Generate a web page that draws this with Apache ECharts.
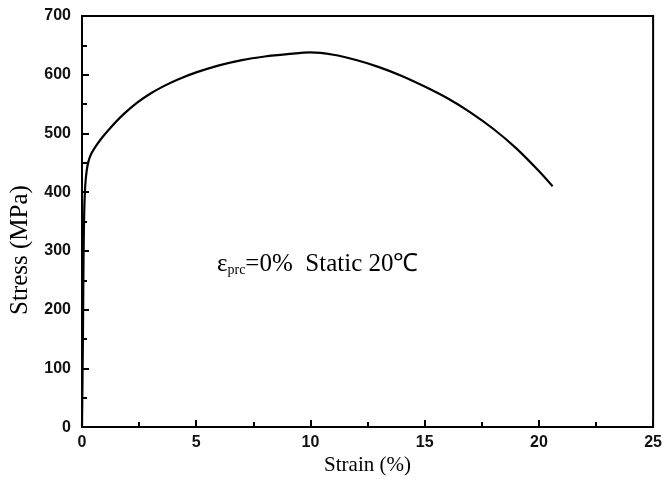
<!DOCTYPE html>
<html>
<head>
<meta charset="utf-8">
<script src="https://cdn.jsdelivr.net/npm/echarts@6/dist/echarts.min.js"></script>
<style>html,body{margin:0;padding:0;background:#fff;}#c{width:665px;height:481px;}</style>
</head>
<body>
<div id="c"></div>
<script>
var strain = [0, 0.04, 0.07, 0.1, 0.14, 0.2, 0.28, 0.4, 0.6, 0.9, 1.3, 1.8, 2.4, 3.0, 3.6, 4.2, 5.0, 6.0, 7.0, 8.0, 9.0, 10.0, 11.0, 12.0, 13.0, 14.0, 15.0, 16.0, 17.0, 18.0, 19.0, 20.0, 20.6];
var stress = [0, 150, 300, 370, 410, 435, 452, 465, 478, 494, 512, 532, 552, 568, 581, 592, 604, 616, 625, 631, 635, 638, 634, 625, 613, 598, 580, 560, 536, 508, 475, 436, 410];
var xTicks = [0, 5, 10, 15, 20, 25];
var yTicks = [0, 100, 200, 300, 400, 500, 600, 700];
var annotation = ['ε', 'prc', '=0%  Static 20℃'];

var points = strain.map(function (s, i) { return [s, stress[i]]; });
var chart = echarts.init(document.getElementById('c'));
chart.setOption({
  animation: false,
  backgroundColor: '#fff',
  grid: { left: 82, right: 11, top: 16, bottom: 45, show: true, borderColor: '#000', borderWidth: 2, backgroundColor: 'transparent' },
  xAxis: {
    type: 'value', min: xTicks[0], max: xTicks[xTicks.length - 1], interval: 5,
    name: 'Strain (%)', nameLocation: 'middle', nameGap: 21,
    nameTextStyle: { fontFamily: 'Liberation Serif', fontSize: 21, color: '#000' },
    axisLine: { show: true, lineStyle: { color: '#000', width: 2 } },
    axisTick: { show: true, inside: true, length: 7, lineStyle: { color: '#000', width: 2 } },
    minorTick: { show: true, splitNumber: 2, length: 5, lineStyle: { color: '#000', width: 2 } },
    axisLabel: { fontFamily: 'Liberation Sans', fontSize: 16, fontWeight: 'bold', color: '#111', margin: 7 },
    splitLine: { show: false }
  },
  yAxis: {
    type: 'value', min: yTicks[0], max: yTicks[yTicks.length - 1], interval: 100,
    axisLine: { show: true, lineStyle: { color: '#000', width: 2 } },
    axisTick: { show: true, inside: true, length: 7, lineStyle: { color: '#000', width: 2 } },
    minorTick: { show: true, splitNumber: 2, length: 5, lineStyle: { color: '#000', width: 2 } },
    axisLabel: { fontFamily: 'Liberation Sans', fontSize: 16, fontWeight: 'bold', color: '#111', margin: 11 },
    splitLine: { show: false }
  },
  graphic: [{
    type: 'text', x: 20, y: 250, rotation: Math.PI / 2,
    style: { text: 'Stress (MPa)', fontFamily: 'Liberation Serif', fontSize: 25, fill: '#000', align: 'center', verticalAlign: 'middle' }
  }, {
    type: 'text', left: 217, top: 252,
    style: {
      text: '{a|' + annotation[0] + '}{b|' + annotation[1] + '}{a|' + annotation[2] + '}',
      rich: {
        a: { fontFamily: 'Liberation Serif', fontSize: 25, color: '#000', verticalAlign: 'bottom' },
        b: { fontFamily: 'Liberation Serif', fontSize: 14, color: '#000', padding: [18, 0, 0, 0], verticalAlign: 'bottom' }
      }
    }
  }],
  series: [{
    type: 'line', data: points, showSymbol: false, smooth: 0.3,
    lineStyle: { color: '#000', width: 2.2 }
  }]
});
</script>
</body>
</html>
